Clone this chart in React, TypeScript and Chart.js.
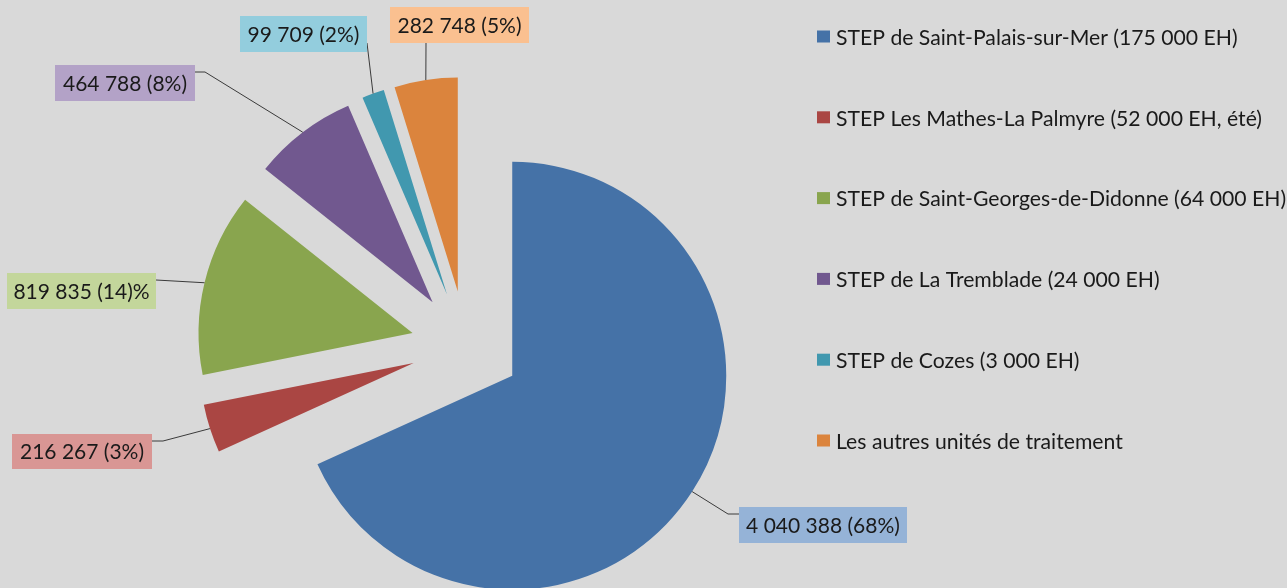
import React, { useEffect, useRef } from 'react';
import { Chart, registerables } from 'chart.js';

Chart.register(...registerables);

// ---- data ----
const categories = [
  'STEP de Saint-Palais-sur-Mer (175 000 EH)',
  'STEP Les Mathes-La Palmyre (52 000 EH, été)',
  'STEP de Saint-Georges-de-Didonne (64 000 EH)',
  'STEP de La Tremblade (24 000 EH)',
  'STEP de Cozes (3 000 EH)',
  'Les autres unités de traitement',
];
const values = [4040388, 216267, 819835, 464788, 99709, 282748];
const percentLabels = ['(68%)', '(3%)', '(14)%', '(8%)', '(2%)', '(5%)'];

// ---- styles ----
const sliceColors = ['#4572A7', '#AA4643', '#89A54E', '#71588F', '#4198AF', '#DB843D'];
const labelBoxColors = ['#95B3D7', '#D99694', '#C3D69B', '#B3A2C7', '#93CDDD', '#FAC090'];
const BG = '#d9d9d9';
const EXPLODE = 55;
const RADIUS = 214;
const LABEL_FONT = '21px Lato';
const LEGEND_FONT = '21.2px Lato';
const TEXT_COLOR = '#1a1a1a';

// annotation boxes [left, top, width, height] and leader-line bends
const labelLayout = [
  { box: [739, 507, 168, 36], path: [[728, 514], [739, 514]] },
  { box: [12, 434, 140, 35], path: [[163, 441], [152, 441]] },
  { box: [7, 273, 149, 36], path: [[156, 280]] },
  { box: [55, 65, 140, 36], path: [[205, 72], [195, 72]] },
  { box: [240, 16, 127, 36], path: [[367, 43]] },
  { box: [390, 7, 139, 36], path: [[426, 43]] },
];
const LEGEND_X = 817;
const LEGEND_TOP = 37;
const LEGEND_STEP = 80.8;
const LEGEND_BOX = 13;

function fmt(v: number): string {
  return String(v).replace(/\B(?=(\d{3})+(?!\d))/g, ' ');
}

const explodePlugin = {
  id: 'explodeSlices',
  beforeDatasetDraw(chart: any, args: any) {
    const meta = args.meta;
    meta.data.forEach((arc: any) => {
      if (arc.__exploded) return;
      const orig = arc.draw.bind(arc);
      arc.draw = (ctx: CanvasRenderingContext2D, area: any) => {
        const h = (arc.startAngle + arc.endAngle) / 2;
        ctx.save();
        ctx.translate(Math.cos(h) * EXPLODE, Math.sin(h) * EXPLODE);
        orig(ctx, area);
        ctx.restore();
      };
      arc.__exploded = true;
    });
  },
};

const annotationPlugin = {
  id: 'annotations',
  afterDatasetsDraw(chart: any) {
    const ctx: CanvasRenderingContext2D = chart.ctx;
    const meta = chart.getDatasetMeta(0);
    const data = chart.data.datasets[0].data as number[];
    ctx.save();
    meta.data.forEach((arc: any, i: number) => {
      const h = (arc.startAngle + arc.endAngle) / 2;
      const r = EXPLODE + arc.outerRadius;
      const ax = arc.x + Math.cos(h) * r;
      const ay = arc.y + Math.sin(h) * r;
      const lay = labelLayout[i];
      ctx.beginPath();
      ctx.moveTo(ax, ay);
      lay.path.forEach((p) => ctx.lineTo(p[0], p[1]));
      ctx.strokeStyle = '#3a3a3a';
      ctx.lineWidth = 1;
      ctx.stroke();
      const [bx, by, bw, bh] = lay.box;
      ctx.fillStyle = labelBoxColors[i];
      ctx.fillRect(bx, by, bw, bh);
      ctx.fillStyle = TEXT_COLOR;
      ctx.font = LABEL_FONT;
      ctx.textAlign = 'center';
      ctx.textBaseline = 'middle';
      ctx.fillText(fmt(data[i]) + ' ' + percentLabels[i], bx + bw / 2, by + bh / 2 + 1);
    });
    // legend
    const labels = chart.data.labels as string[];
    labels.forEach((lab, i) => {
      const cy = LEGEND_TOP + i * LEGEND_STEP;
      ctx.fillStyle = sliceColors[i];
      ctx.fillRect(LEGEND_X, cy - LEGEND_BOX / 2, LEGEND_BOX, LEGEND_BOX - 1);
      ctx.fillStyle = TEXT_COLOR;
      ctx.font = LEGEND_FONT;
      ctx.textAlign = 'left';
      ctx.textBaseline = 'middle';
      ctx.fillText(lab, LEGEND_X + 19, cy + 1);
    });
    ctx.restore();
  },
};

export default function App() {
  const ref = useRef<HTMLCanvasElement | null>(null);
  useEffect(() => {
    document.body.style.margin = '0';
    const canvas = ref.current!;
    const chart = new Chart(canvas, {
      type: 'pie',
      data: {
        labels: categories,
        datasets: [
          {
            data: values,
            backgroundColor: sliceColors,
            borderWidth: 0,
            radius: RADIUS,
            clip: false,
          } as any,
        ],
      },
      options: {
        animation: false,
        responsive: false,
        events: [],
        layout: { padding: { left: 0, top: 104, right: 355, bottom: 0 } },
        plugins: {
          legend: { display: false },
          tooltip: { enabled: false },
        },
      },
      plugins: [explodePlugin, annotationPlugin],
    });
    return () => chart.destroy();
  }, []);
  return (
    <div style={{ position: 'absolute', left: 0, top: 0, width: 1287, height: 588, background: BG, overflow: 'hidden' }}>
      <canvas ref={ref} width={1287} height={588} style={{ width: 1287, height: 588, display: 'block' }} />
    </div>
  );
}
